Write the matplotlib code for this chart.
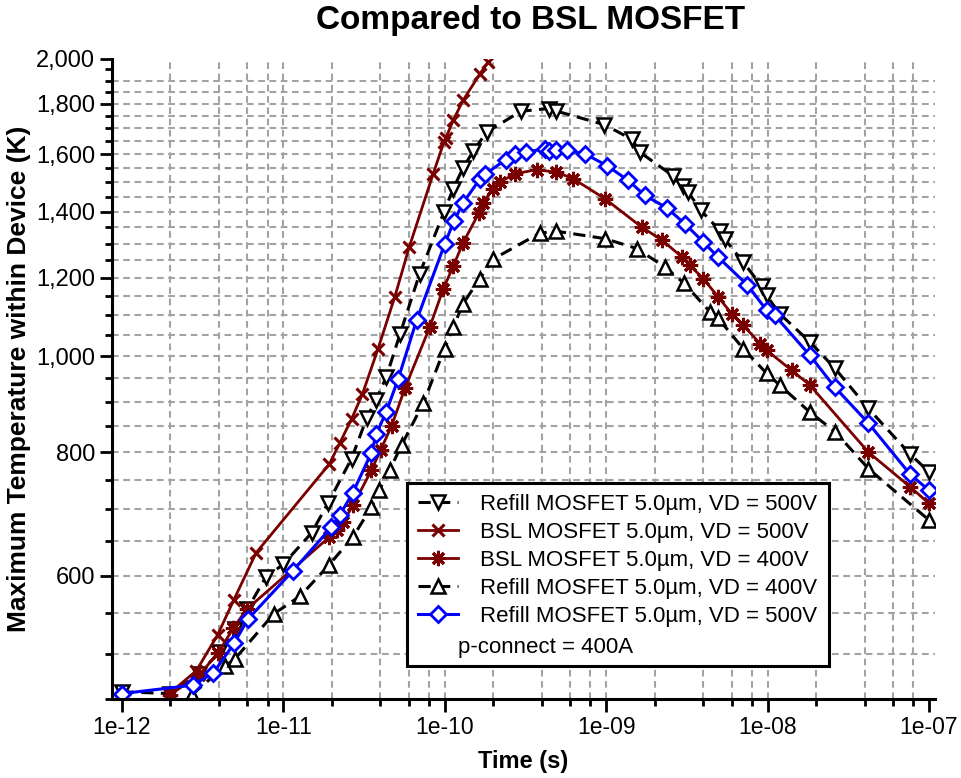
import numpy as np
import matplotlib
matplotlib.use("Agg")
import matplotlib.pyplot as plt
from matplotlib.ticker import FixedLocator, FuncFormatter, NullFormatter
from matplotlib.lines import Line2D

plt.rcParams['font.family'] = ['Liberation Sans', 'DejaVu Sans']

# Refill MOSFET 5.0um, VD = 500V (black dashed, down triangles)
t_refill500 = [1e-12, 2e-12, 3e-12, 4e-12, 5e-12, 6e-12, 7.8e-12, 1.0e-11, 1.5e-11, 1.9e-11,
               2.65e-11, 3.3e-11, 3.75e-11, 4.35e-11, 5.3e-11, 7.0e-11, 9.9e-11, 1.13e-10,
               1.3e-10, 1.5e-10, 1.82e-10, 2.97e-10, 4.4e-10, 4.9e-10, 9.7e-10, 1.45e-9, 1.62e-9,
               2.58e-9, 3.0e-9, 3.23e-9, 3.87e-9, 5.07e-9, 5.45e-9, 7.07e-9, 9.2e-9, 9.87e-9,
               1.19e-8, 1.83e-8, 2.62e-8, 4.2e-8, 7.6e-8, 1.0e-7]
T_refill500 = [458, 456, 477, 502, 530, 555, 598, 616, 663, 711, 788, 867, 903, 953, 1054, 1212,
               1399, 1477, 1550, 1611, 1685, 1769, 1780, 1770, 1715, 1657, 1608, 1523, 1485,
               1465, 1404, 1340, 1313, 1245, 1177, 1152, 1104, 1034, 972, 886, 797, 764]

# BSL MOSFET 5.0um, VD = 500V (dark red, x)
t_bsl500 = [2e-12, 2.9e-12, 3.93e-12, 4.94e-12, 6.8e-12, 1.93e-11, 2.24e-11, 2.65e-11, 3.09e-11,
            3.87e-11, 4.91e-11, 6.03e-11, 8.49e-11, 9.89e-11, 1.02e-10, 1.13e-10, 1.3e-10,
            1.65e-10, 1.86e-10]
T_bsl500 = [457, 481, 523, 567, 633, 778, 817, 864, 915, 1018, 1148, 1289, 1529, 1646, 1664,
            1732, 1814, 1929, 1983]

# BSL MOSFET 5.0um, VD = 400V (dark red, asterisk)
t_bsl400 = [2e-12, 3e-12, 3.95e-12, 4.9e-12, 5.95e-12, 1.92e-11, 2.14e-11, 2.35e-11, 2.71e-11,
            3.52e-11, 4.01e-11, 4.69e-11, 5.67e-11, 8.1e-11, 9.79e-11, 1.13e-10, 1.3e-10,
            1.63e-10, 1.73e-10, 1.98e-10, 2.2e-10, 2.72e-10, 3.71e-10, 4.93e-10, 6.25e-10,
            9.84e-10, 1.66e-9, 2.21e-9, 2.97e-9, 3.3e-9, 4.0e-9, 4.95e-9, 6.0e-9, 7.07e-9,
            8.98e-9, 9.87e-9, 1.41e-8, 1.83e-8, 4.21e-8, 7.63e-8, 1.0e-7]
T_bsl400 = [455, 476, 501, 531, 555, 656, 667, 680, 707, 767, 804, 850, 928, 1071, 1169, 1233,
            1302, 1396, 1429, 1477, 1500, 1529, 1544, 1535, 1512, 1443, 1351, 1311, 1259, 1236,
            1198, 1148, 1104, 1075, 1030, 1014, 968, 935, 800, 738, 710]

# Refill MOSFET 5.0um, VD = 400V (black dashed, up triangles)
t_refill400 = [2.73e-12, 4.35e-12, 5.0e-12, 8.74e-12, 1.27e-11, 1.92e-11, 2.71e-11, 3.52e-11,
               3.93e-11, 4.58e-11, 5.41e-11, 7.36e-11, 1.0e-10, 1.13e-10, 1.3e-10, 1.65e-10,
               1.98e-10, 3.89e-10, 4.89e-10, 9.84e-10, 1.55e-9, 2.31e-9, 3.03e-9, 4.4e-9,
               4.95e-9, 7.07e-9, 9.87e-9, 1.19e-8, 1.83e-8, 2.62e-8, 4.21e-8, 1.0e-7]
T_refill400 = [455, 486, 494, 549, 572, 615, 657, 704, 732, 768, 813, 896, 1018, 1070, 1130,
               1198, 1253, 1332, 1338, 1315, 1285, 1231, 1186, 1109, 1092, 1018, 961, 935, 878,
               839, 770, 683]

# Refill MOSFET 5.0um, VD = 500V (blue, diamonds)
t_blue = [1e-12, 2.75e-12, 3.68e-12, 4.98e-12, 6.03e-12, 1.15e-11, 1.99e-11, 2.24e-11, 2.69e-11,
          3.52e-11, 3.78e-11, 4.34e-11, 5.15e-11, 6.7e-11, 1.0e-10, 1.14e-10, 1.3e-10, 1.66e-10,
          1.79e-10, 2.39e-10, 2.72e-10, 3.18e-10, 4.18e-10, 4.42e-10, 4.93e-10, 5.69e-10,
          7.39e-10, 1.01e-9, 1.37e-9, 1.74e-9, 2.37e-9, 3.08e-9, 4.0e-9, 4.95e-9, 7.49e-9,
          9.87e-9, 1.11e-8, 1.83e-8, 2.62e-8, 4.21e-8, 7.63e-8, 1.0e-7]
T_blue = [456, 465, 478, 513, 542, 607, 672, 691, 727, 799, 835, 878, 948, 1087, 1298, 1369,
          1429, 1512, 1529, 1580, 1602, 1608, 1621, 1611, 1617, 1615, 1602, 1559, 1506, 1454,
          1413, 1361, 1305, 1259, 1181, 1113, 1100, 1002, 930, 856, 760, 732]

labels = ["Refill MOSFET 5.0µm, VD = 500V",
          "BSL MOSFET 5.0µm, VD = 500V",
          "BSL MOSFET 5.0µm, VD = 400V",
          "Refill MOSFET 5.0µm, VD = 400V",
          "Refill MOSFET 5.0µm, VD = 500V"]
note = "p-connect = 400A"

x_major = [1e-12, 1e-11, 1e-10, 1e-9, 1e-8, 1e-7]
x_minor = [d * s for d in x_major[:-1] for s in (2, 4, 6, 8)]
y_major = [600, 800, 1000, 1200, 1400, 1600, 1800, 2000]
y_minor = [v for v in range(450, 2000, 50) if v not in y_major]
y_grid = list(range(500, 1950, 50))

W, H = 962, 778
fig = plt.figure(figsize=(W / 100, H / 100), dpi=100)
ax = fig.add_axes([112 / W, 1 - 699.3 / H, (935 - 112) / W, (699.3 - 58.5) / H])

ax.set_xscale('log')
ax.set_yscale('log')
ax.set_xlim(0.87e-12, 1.09e-7)
ax.set_ylim(450, 2000)

# dashed grey grid
gkw = dict(color='#a3a3a3', lw=1.5, ls=(0, (3.2, 2.2)), zorder=0)
for v in y_grid:
    ax.axhline(v, **gkw)
for v in x_minor + x_major[1:-1]:
    ax.axvline(v, **gkw)

dash = (0, (4, 2.4))
ax.plot(t_refill500, T_refill500, color='black', lw=2.2, ls=dash, marker='v', ms=10,
        mfc='white', mec='black', mew=1.8, label=labels[0])
ax.plot(t_bsl500, T_bsl500, color='#7a0000', lw=2.0, marker='x', ms=9, mew=2.2,
        label=labels[1])
ax.plot(t_bsl400, T_bsl400, color='#7a0000', lw=2.0, marker=(8, 2, 0), ms=11, mew=2.2,
        label=labels[2])
ax.plot(t_refill400, T_refill400, color='black', lw=2.2, ls=dash, marker='^', ms=10,
        mfc='white', mec='black', mew=1.8, label=labels[3])
ax.plot(t_blue, T_blue, color='#0000ff', lw=2.2, marker='D', ms=8, mfc='white',
        mec='#0000ff', mew=2.0, label=labels[4])

# axes styling
for side in ['top', 'right']:
    ax.spines[side].set_visible(False)
for side in ['left', 'bottom']:
    ax.spines[side].set_linewidth(2.2)

ax.yaxis.set_major_locator(FixedLocator(y_major))
ax.yaxis.set_major_formatter(FuncFormatter(lambda v, p: f"{v:,.0f}"))
ax.yaxis.set_minor_locator(FixedLocator(y_minor))
ax.yaxis.set_minor_formatter(NullFormatter())
ax.xaxis.set_major_locator(FixedLocator(x_major))
ax.xaxis.set_major_formatter(FuncFormatter(lambda v, p: f"{v:.0e}"))
ax.xaxis.set_minor_locator(FixedLocator(x_minor))
ax.xaxis.set_minor_formatter(NullFormatter())

ax.tick_params(which='major', direction='out', length=9, width=2, pad=3)
ax.tick_params(which='minor', direction='out', length=5, width=2)
ax.tick_params(axis='x', labelsize=16.5)
ax.tick_params(axis='y', labelsize=17)

ax.set_xlabel("Time (s)", fontsize=17, fontweight='bold', labelpad=8)
ax.set_ylabel("Maximum Temperature within Device (K)", fontsize=19, fontweight='bold',
              labelpad=4)
fig.text(531 / W, 1 - 20 / H, "Compared to BSL MOSFET", fontsize=24, fontweight='bold',
         ha='center', va='center')

handles, hl = ax.get_legend_handles_labels()
handles.append(Line2D([], [], linestyle='none'))
hl.append(" ")
leg = ax.legend(handles, hl, loc='upper left', bbox_to_anchor=(407 / W, 1 - 483 / H),
                bbox_transform=fig.transFigure, borderaxespad=0, fontsize=16, numpoints=1,
                handlelength=1.8, handletextpad=1.0, labelspacing=0.31, borderpad=0.5,
                fancybox=False, framealpha=1, edgecolor='black')
leg.get_frame().set_linewidth(2.2)
fig.text(458 / W, 1 - 648 / H, note, fontsize=16, ha='left', va='center', zorder=10)

fig.savefig("out.png", dpi=100)
